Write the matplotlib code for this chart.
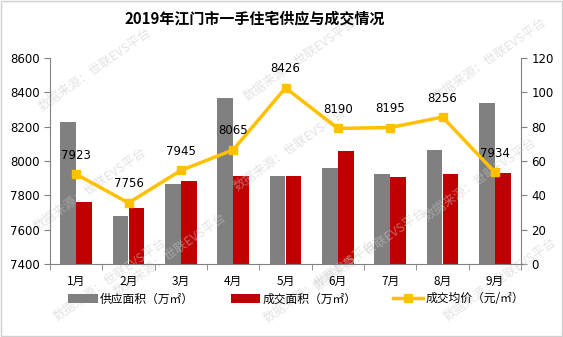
import numpy as np
import matplotlib
matplotlib.use("Agg")
import matplotlib.pyplot as plt
from matplotlib.patches import Rectangle

plt.rcParams['font.family'] = ['Noto Sans CJK SC', 'DejaVu Sans']

months = ['1月', '2月', '3月', '4月', '5月', '6月', '7月', '8月', '9月']
supply = [82.9, 28.0, 46.8, 96.7, 51.4, 55.9, 52.4, 66.4, 93.8]
deal = [36.1, 32.6, 48.3, 51.4, 51.4, 65.8, 50.7, 52.4, 53.0]
price = [7923, 7756, 7945, 8065, 8426, 8190, 8195, 8256, 7934]

fig = plt.figure(figsize=(5.63, 3.37), dpi=100)
ax = fig.add_axes([50 / 563, 1 - 264 / 337, 471 / 563, 206 / 337])
ax2 = ax.twinx()

x = np.arange(len(months))
w = 0.3
ax2.bar(x - w / 2, supply, w, color='#808080', label='供应面积（万㎡）', zorder=2)
ax2.bar(x + w / 2, deal, w, color='#C00000', label='成交面积（万㎡）', zorder=2)
ax2.set_ylim(0, 120)
ax2.set_yticks(range(0, 121, 20))

# price line lives on the left axis, drawn over the bars
ax.set_zorder(ax2.get_zorder() + 1)
ax.patch.set_visible(False)
ax.plot(x, price, color='#FFC000', lw=2.5, marker='s', ms=6, label='成交均价（元/㎡）')
for xi, p in zip(x, price):
    ax.annotate(str(p), (xi, p), xytext=(0, 9), textcoords='offset points',
                ha='center', va='bottom', fontsize=8.5, family='DejaVu Sans')
ax.set_ylim(7400, 8600)
ax.set_yticks(range(7400, 8601, 200))
ax.set_xlim(-0.5, len(months) - 0.5)
ax.set_xticks(x)
ax.set_xticklabels(months)
ax.set_xticks(np.arange(-0.5, len(months)), minor=True)
ax.tick_params(axis='x', which='major', length=0, pad=8, labelsize=8.5)
ax.tick_params(axis='x', which='minor', length=4, color='#808080')

for a in (ax, ax2):
    for s in a.spines.values():
        s.set_visible(False)
    a.tick_params(axis='y', labelsize=8.5, length=4, color='#808080')
ax.spines['left'].set_visible(True)
ax.spines['left'].set_color('#808080')
ax.spines['bottom'].set_visible(True)
ax.spines['bottom'].set_color('#808080')
ax2.spines['right'].set_visible(True)
ax2.spines['right'].set_color('#808080')
for lbl in ax.get_yticklabels() + ax2.get_yticklabels():
    lbl.set_family('DejaVu Sans')

fig.text(255 / 563, 1 - 18 / 337, '2019年江门市一手住宅供应与成交情况', ha='center', va='center',
         fontsize=10.8, fontweight='bold')

h1, l1 = ax2.get_legend_handles_labels()
h2, l2 = ax.get_legend_handles_labels()
fig.legend(h1 + h2, l1 + l2, loc='center', bbox_to_anchor=(296 / 563, 1 - 299 / 337), ncol=3,
           frameon=False, fontsize=8.5, handlelength=2.5, handleheight=0.8,
           columnspacing=3.1, handletextpad=0.2)

# faint watermark, kept inside the frame
marks = [(95, 70), (300, 60), (490, 60), (90, 190), (290, 150), (480, 180),
         (170, 255), (370, 250), (110, 280), (320, 282), (500, 280)]
for mx, my in marks:
    fig.text(mx / 563, 1 - my / 337, '数据来源：世联EVS平台', rotation=35, fontsize=9,
             color='#c8c8c8', alpha=0.5, ha='center', va='center', zorder=0)

fig.patches.append(Rectangle((0.002, 0.003), 0.996, 0.994, transform=fig.transFigure,
                             fill=False, edgecolor='#d0d0d0', lw=1))

fig.savefig('out.png', dpi=100)
